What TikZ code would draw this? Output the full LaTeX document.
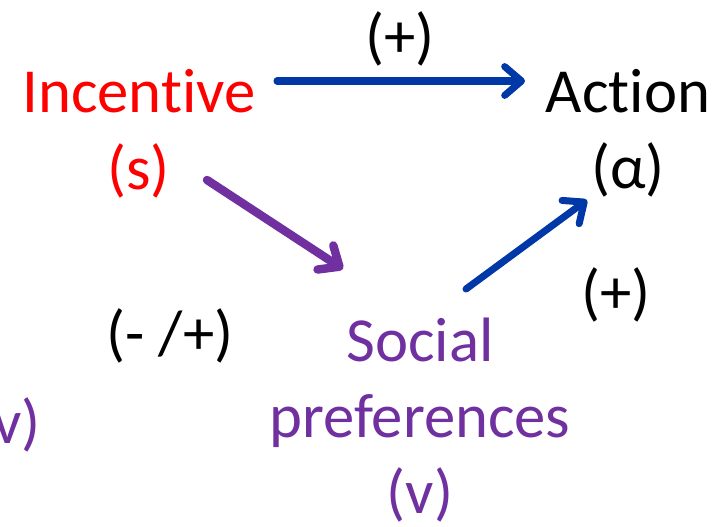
\documentclass[tikz,border=0pt]{standalone}
\usepackage{fontspec}
\setmainfont{Carlito}[Ligatures=NoCommon]
\usepackage{xcolor}
\usepackage{tikz}
\usetikzlibrary{arrows.meta}
\definecolor{incred}{HTML}{FF0000}
\definecolor{prefpurple}{HTML}{7030A0}
\definecolor{linkblue}{HTML}{0038A8}

\begin{document}
\begin{tikzpicture}[
  lbl/.style={inner sep=0pt, anchor=base, font=\fontsize{44.6}{53.9}\selectfont},
  link/.style={line width=5pt, line cap=round,
    -{Straight Barb[length=0.42cm, width=0.72cm, round]}}
]
  \useasboundingbox (0,0) rectangle (18.15,13.15);

  % Variables
  \node[lbl, incred] (inc) at (3.475,10.325) {Incentive};
  \node[lbl, incred] (s) at (3.4625,8.425) {(s)};
  \node[lbl] (act) at (15.7,10.325) {Action};
  \node[lbl] (alpha) at (15.7,8.45) {(α)};
  \node[lbl, prefpurple, align=center] (soc) at (10.5,0.325) {Social\\preferences\\(v)};
  \node[lbl, prefpurple, anchor=base east] (vcut) at (1.025,2.075) {(v)};

  % Signs
  \node[lbl] (signtop) at (10.0,11.725) {(+)};
  \node[lbl] (signright) at (15.4,5.325) {(+)};
  \node[lbl] (signmid) at (4.25,4.3) {(- /+)};

  % Links
  \draw[link, linkblue] ([shift={(3.45,0.8)}]inc.base) -- ([shift={(-2.575,0.8)}]act.base);
  \draw[link, prefpurple, line width=6pt] ([shift={(1.7125,0.225)}]s.base) -- ([shift={(-1.925,6.1)}]soc.base);
  \draw[link, linkblue] ([shift={(1.15,5.6)}]soc.base) -- ([shift={(-1.025,-0.3)}]alpha.base);
\end{tikzpicture}
\end{document}
